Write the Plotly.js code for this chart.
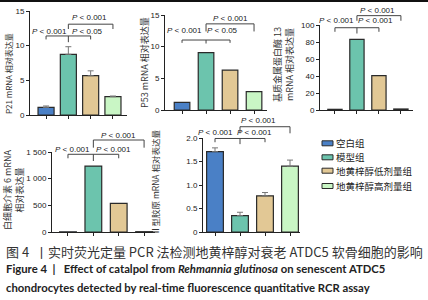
<!DOCTYPE html>
<html><head><meta charset="utf-8">
<script src="https://cdn.plot.ly/plotly-3.0.1.min.js"></script>
<style>html,body{margin:0;padding:0;background:#fff}</style>
</head><body><div id="chart" style="width:428px;height:300px"></div>
<script>
const categories = ['空白组','模型组','地黄梓醇低剂量组','地黄梓醇高剂量组'];
const barColors = ['#4a80c6','#6cc4ad','#e2c895','#c9f6c5'];
const p21Values = [1.1, 8.75, 5.67, 2.64];
const p21Errors = [0.2, 1.1, 0.7, 0.1];
const p53Values = [1.2, 9.05, 6.3, 2.9];
const mmp13Values = [0.8, 83.1, 40.4, 1.2];
const il6Values = [3, 1237, 538, 6];
const col2Values = [1.71, 0.35, 0.77, 1.40];
const col2Errors = [0.08, 0.07, 0.07, 0.13];
const p21Ticks = [0,5,10,15], p21TickText = ['0','5','10','15'];
const p53Ticks = [0,5,10,15], p53TickText = ['0','5','10','15'];
const mmp13Ticks = [0,20,40,60,80,100], mmp13TickText = ['0','20','40','60','80','100'];
const il6Ticks = [0,500,1000,1500], il6TickText = ['0','500','1 000','1 500'];
const col2Ticks = [0,0.5,1,1.5,2], col2TickText = ['0','0.5','1.0','1.5','2.0'];
const pLabels = ['0.001','0.05','0.001','0.05','0.001','0.001','0.001','0.001','0.001','0.001'];

const W = 428, H = 300;
const panels = [
  {vals:p21Values, err:p21Errors, tv:p21Ticks, tt:p21TickText, x0:30, x1:127, xr:[-0.72,3.63], y0:115, y1:11, yr:[0,15], bw:0.72,
   br:{lo:11.4, loEnd:10.9, loMid:10.5, up:13.1, upEnd:12.4, t:[[0.14,12.0],[1.84,12.0],[1.97,14.0]]}, pl:[pLabels[0],pLabels[1],pLabels[2]]},
  {vals:p53Values, err:null, tv:p53Ticks, tt:p53TickText, x0:165, x1:267, xr:[-0.71,3.54], y0:110, y1:15, yr:[0,15], bw:0.65,
   br:{lo:11.05, loEnd:10.6, loMid:10.5, up:13.6, upEnd:12.4, t:[[0.12,12.5],[1.7,12.5],[2.03,14.5]]}, pl:[pLabels[2],pLabels[3],pLabels[4]]},
  {vals:mmp13Values, err:null, tv:mmp13Ticks, tt:mmp13TickText, x0:320, x1:413, xr:[-0.68,3.55], y0:110, y1:25, yr:[0,100], bw:0.65,
   br:{lo:96.8, loEnd:92, loMid:90, up:111, upEnd:105, t:[[0.05,105],[1.84,105],[1.95,117.6]]}, pl:[pLabels[4],pLabels[5],pLabels[6]]},
  {vals:il6Values, err:null, tv:il6Ticks, tt:il6TickText, x0:52, x1:155, xr:[-0.63,3.43], y0:232, y1:152, yr:[0,1500], bw:0.66,
   br:{lo:1457, loEnd:1382, loMid:1331, up:1725, upEnd:1581, t:[[0.16,1556],[1.78,1556],[1.98,1806]]}, pl:[pLabels[6],pLabels[7],pLabels[8]]},
  {vals:col2Values, err:col2Errors, tv:col2Ticks, tt:col2TickText, x0:203, x1:300, xr:[-0.48,3.4], y0:232, y1:138, yr:[0,2], bw:0.67,
   br:{lo:1.99, loEnd:1.91, loMid:1.87, up:2.24, upEnd:2.1, t:[[0,2.12],[1.58,2.12],[1.75,2.38]]}, pl:[pLabels[7],pLabels[8],pLabels[9]]}
];

function toPaper(P, xv, yv){
  const px = P.x0 + (xv - P.xr[0])/(P.xr[1]-P.xr[0])*(P.x1-P.x0);
  const py = P.y0 - (yv - P.yr[0])/(P.yr[1]-P.yr[0])*(P.y0-P.y1);
  return [px/W, 1 - py/H];
}

const traces = [], shapes = [], annotations = [];
const layout = {width:W, height:H, margin:{l:0,r:0,t:0,b:0}, paper_bgcolor:'#fff', plot_bgcolor:'rgba(0,0,0,0)',
  showlegend:false, font:{family:'Liberation Sans, Arial, sans-serif', size:8, color:'#333'}};

panels.forEach((P,i)=>{
  const n = i===0 ? '' : String(i+1);
  const xa = 'xaxis'+n, ya = 'yaxis'+n;
  layout[xa] = {domain:[P.x0/W, P.x1/W], range:P.xr, anchor:'y'+n, showline:true, linecolor:'#222', linewidth:1,
    ticks:'outside', ticklen:3, tickcolor:'#222', tickvals:[0,1,2,3], showticklabels:false, showgrid:false, zeroline:false, fixedrange:true};
  layout[ya] = {domain:[1-P.y0/H, 1-P.y1/H], range:P.yr, anchor:'x'+n, showline:true, linecolor:'#222', linewidth:1,
    ticks:'outside', ticklen:3, tickcolor:'#222', tickvals:P.tv, ticktext:P.tt, tickfont:{size:8,color:'#222'},
    showgrid:false, zeroline:false, fixedrange:true};
  const tr = {type:'bar', x:[0,1,2,3], y:P.vals, width:[P.bw,P.bw,P.bw,P.bw], xaxis:'x'+n, yaxis:'y'+n,
    marker:{color:barColors, line:{color:'#2a2a2a', width:1.2}}, text:categories, hoverinfo:'text+y', textposition:'none'};
  if (P.err) tr.error_y = {type:'data', array:P.err, arrayminus:[0,0,0,0], symmetric:false, color:'#777', thickness:1, width:3};
  traces.push(tr);
  const b = P.br;
  const seg = (xa1,ya1,xa2,ya2)=>{const a=toPaper(P,xa1,ya1), c=toPaper(P,xa2,ya2);
    shapes.push({type:'line', xref:'paper', yref:'paper', x0:a[0], y0:a[1], x1:c[0], y1:c[1], line:{color:'#444', width:1}});};
  seg(0,b.loEnd,0,b.lo); seg(0,b.lo,2,b.lo); seg(2,b.lo,2,b.loEnd); seg(1,b.lo,1,b.loMid);
  seg(1,b.upEnd,1,b.up); seg(1,b.up,3,b.up); seg(3,b.up,3,b.upEnd);
  b.t.forEach((t,k)=>{const p=toPaper(P,t[0],t[1]);
    annotations.push({xref:'paper', yref:'paper', x:p[0], y:p[1], xanchor:'center', yanchor:'middle', showarrow:false,
      text:'<i>P</i> &lt; '+P.pl[k], font:{size:8, color:'#222', family:'Liberation Sans, Arial, sans-serif'}});});
});

const cjk = 'Noto Sans CJK SC, sans-serif';
function ylab(xpx, ypx, text, size){
  annotations.push({xref:'paper', yref:'paper', x:xpx/W, y:1-ypx/H, xanchor:'center', yanchor:'middle', showarrow:false,
    textangle:-90, text:text, font:{family:cjk, size:size, color:'#333'}});
}
ylab(8, 74, 'P21 mRNA 相对表达量', 8);
ylab(145, 63, 'P53 mRNA 相对表达量', 9);
ylab(283, 65, '基质金属蛋白酶 13<br>mRNA 相对表达量', 9);
ylab(13, 190, '白细胞介素 6 mRNA<br>相对表达量', 9);
ylab(155, 183, 'Ⅱ型胶原 mRNA 相对表达量', 8.5);

// legend
const legY = [143.3, 157.3, 170.7, 186];
categories.forEach((c,k)=>{
  shapes.push({type:'rect', xref:'paper', yref:'paper', x0:322/W, x1:333/W, y0:1-(legY[k]+2.5)/H, y1:1-(legY[k]-2.5)/H,
    fillcolor:barColors[k], line:{color:'#2a2a2a', width:1}});
  annotations.push({xref:'paper', yref:'paper', x:334/W, y:1-legY[k]/H, xanchor:'left', yanchor:'middle', showarrow:false,
    text:c, font:{family:cjk, size:9.5, color:'#222'}});
});

// top border
shapes.push({type:'line', xref:'paper', yref:'paper', x0:0, x1:1, y0:1-1/H, y1:1-1/H, line:{color:'#111', width:2}});

// caption
const nb = '\u00A0';
annotations.push({xref:'paper', yref:'paper', x:4/W, y:1-251/H, xanchor:'left', yanchor:'middle', showarrow:false,
  text:'图 4 '+nb+'丨实时荧光定量 PCR 法检测地黄梓醇对衰老 ATDC5 软骨细胞的影响', font:{family:cjk, size:13, color:'#333'}});
annotations.push({xref:'paper', yref:'paper', x:4/W, y:1-268/H, xanchor:'left', yanchor:'middle', showarrow:false,
  text:'<b>Figure 4'+nb+nb+'|'+nb+nb+nb+'Effect of catalpol from <i>Rehmannia glutinosa</i> on senescent ATDC5</b>', font:{family:'Lato, sans-serif', size:11.3, color:'#222'}});
annotations.push({xref:'paper', yref:'paper', x:4/W, y:1-287/H, xanchor:'left', yanchor:'middle', showarrow:false,
  text:'<b>chondrocytes detected by real-time fluorescence quantitative RCR assay</b>', font:{family:'Lato, sans-serif', size:11.3, color:'#222'}});

layout.shapes = shapes;
layout.annotations = annotations;
Plotly.newPlot('chart', traces, layout, {staticPlot:true, displayModeBar:false});
</script></body></html>
